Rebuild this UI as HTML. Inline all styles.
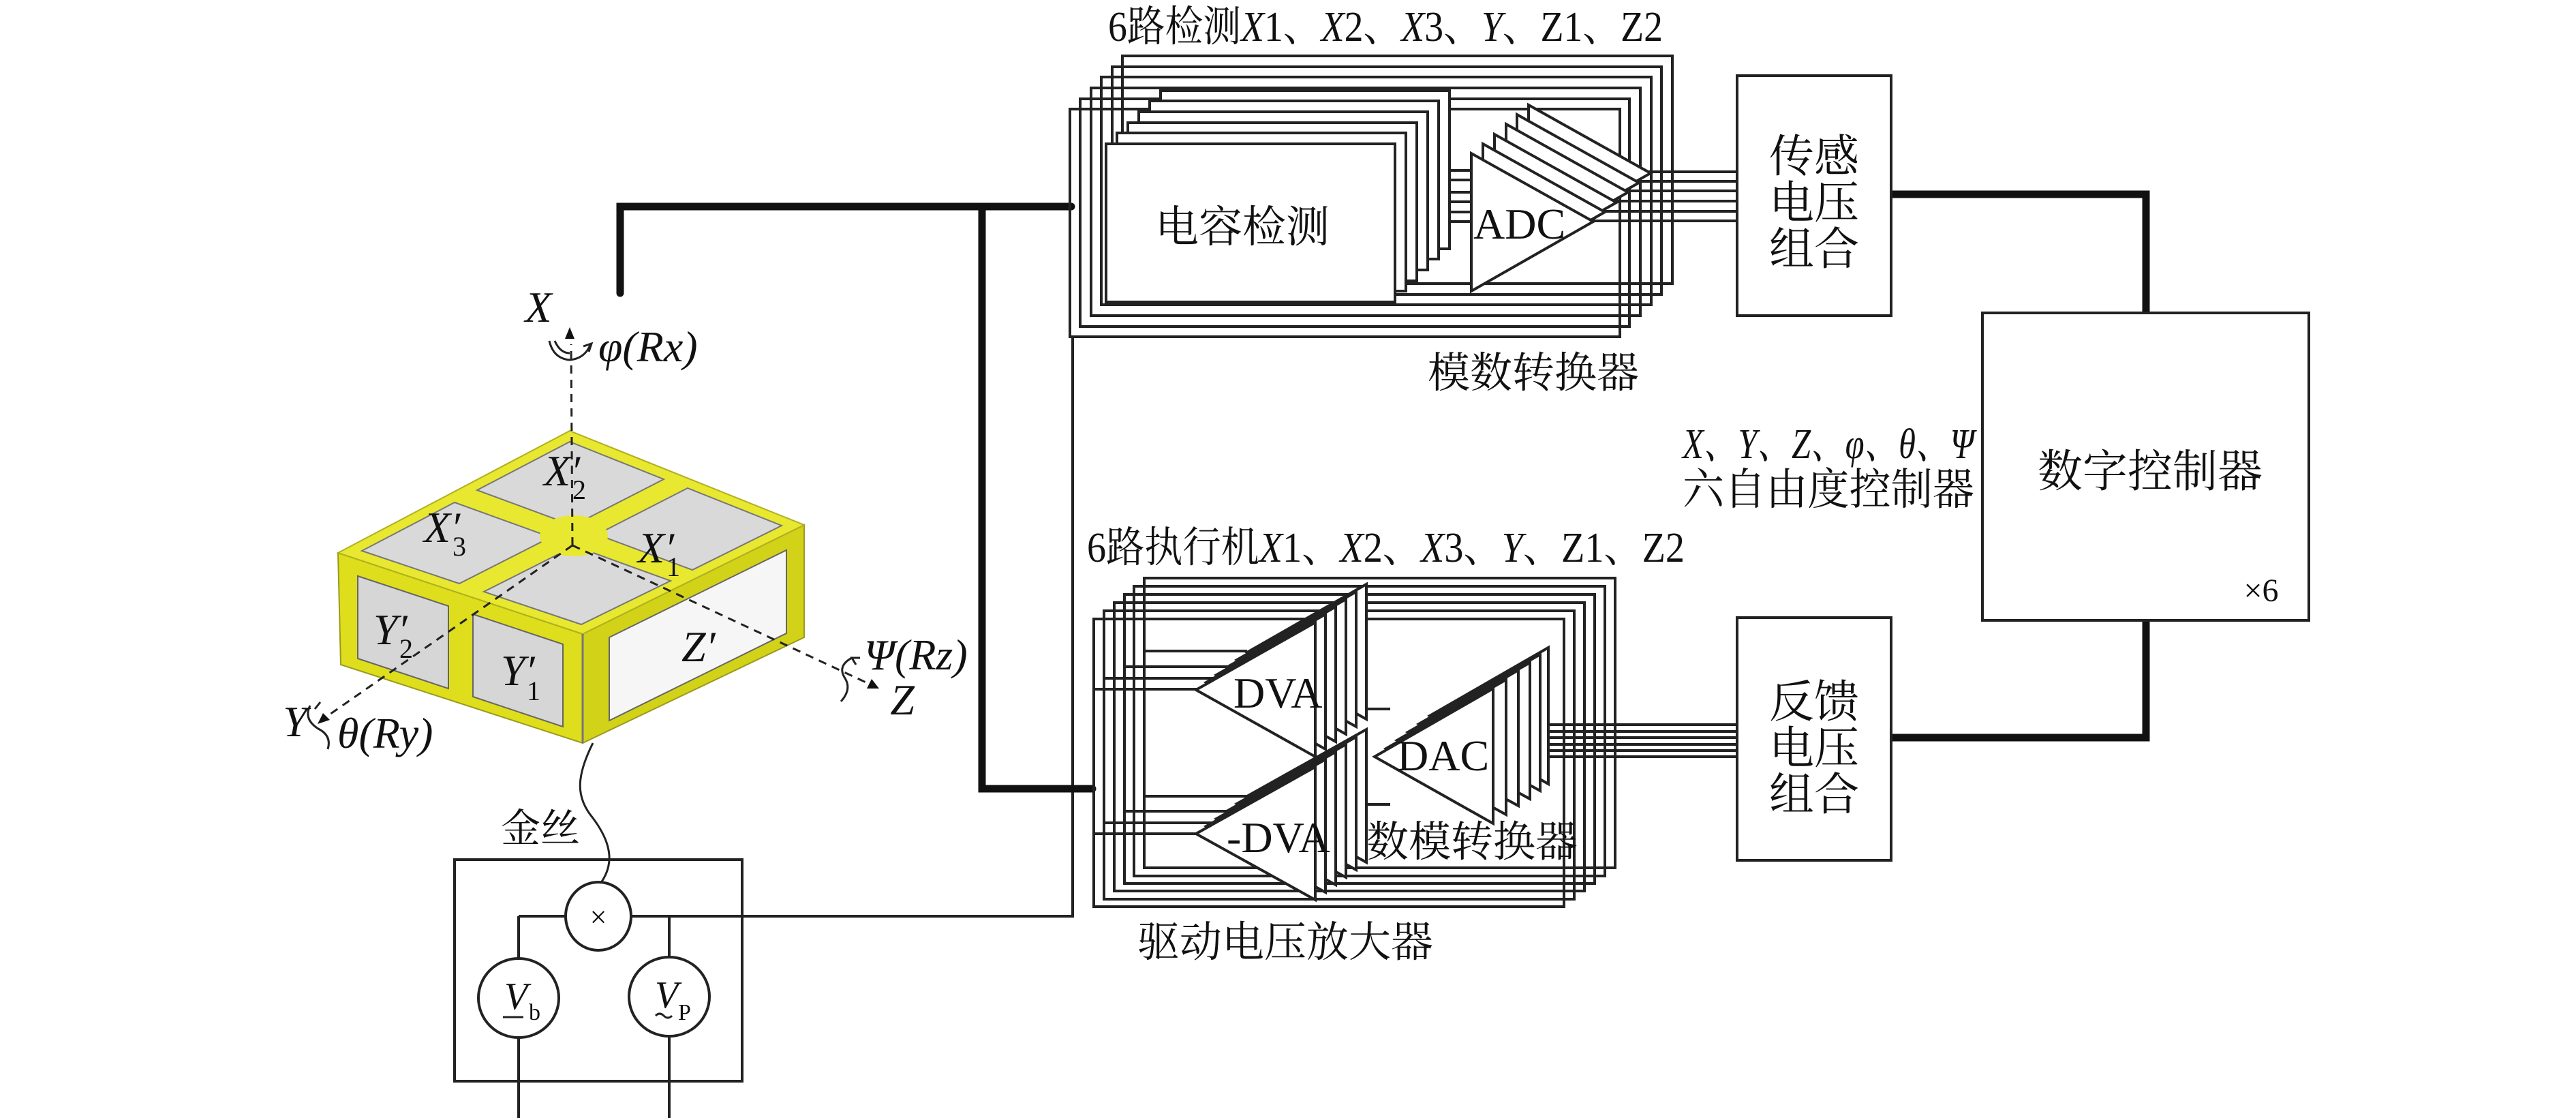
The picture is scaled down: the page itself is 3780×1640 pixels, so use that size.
<!DOCTYPE html>
<html><head><meta charset="utf-8"><style>
html,body{margin:0;padding:0;background:#fff;}
svg{display:block;}
.cn{font-family:"Liberation Serif","Noto Serif CJK SC",serif;fill:#111;}
.it{font-family:"Liberation Serif","Noto Serif CJK SC",serif;font-style:italic;fill:#111;}
</style></head><body>
<svg width="3780" height="1640" viewBox="0 0 3780 1640" xmlns="http://www.w3.org/2000/svg">
<rect width="3780" height="1640" fill="#fff"/>

<!-- ============ CUBE ============ -->
<polygon points="496,811 855,930 855,1090 500,975" fill="#dede1c" stroke="#9a9a20" stroke-width="2"/>
<polygon points="855,930 1180,770 1180,935 855,1090" fill="#d2d218" stroke="#9a9a20" stroke-width="2"/>
<polygon points="836,632 496,811 855,930 1180,770" fill="#e8e830" stroke="#b0b020" stroke-width="2"/>
<line x1="855" y1="930" x2="855" y2="1090" stroke="#777" stroke-width="3"/>
<g fill="#d9d9d9" stroke="#777" stroke-width="2">
<polygon points="836,648 700,719 841,771 974,703"/>
<polygon points="667,737 531,808 674,856 808,788"/>
<polygon points="1009,716 876,784 1016,836 1147,771"/>
<polygon points="843,801 710,868 853,916 984,852"/>
</g>
<ellipse cx="842" cy="786" rx="50" ry="30" fill="#e8e830"/>
<g fill="#d6d6d6" stroke="#666" stroke-width="2">
<polygon points="525,845 658,889 658,1010 525,966"/>
<polygon points="694,901 826,945 826,1066 694,1022"/>
</g>
<polygon points="894,935 1154,807 1154,929 894,1057" fill="#f6f6f6" stroke="#666" stroke-width="2"/>

<!-- axes -->
<g stroke="#222" stroke-width="3" stroke-dasharray="12,9" fill="none">
<line x1="840" y1="800" x2="838" y2="505"/>
<line x1="840" y1="800" x2="478" y2="1052"/>
<line x1="840" y1="800" x2="1275" y2="1003"/>
</g>
<polygon points="836,480 829,497 843,497" fill="#111"/>
<polygon points="466,1062 474,1046 484,1056" fill="#111"/>
<polygon points="1290,1010 1272,1010 1279,996" fill="#111"/>
<g stroke="#222" stroke-width="3" fill="none">
<path d="M806,500 q6,26 30,28 q22,-2 30,-22"/>
<path d="M814,500 q8,18 22,18"/>
<path d="M856,508 l12,-4 l-4,12"/>
<path d="M455,1035 q-10,20 12,34 q20,10 14,30"/>
<path d="M470,1030 l-8,10"/>
<path d="M1250,965 q-22,12 -10,30 q10,16 -6,34"/>
<path d="M1262,965 l-12,0 l6,10"/>
</g>
<text x="790" y="472" class="it" font-size="64" text-anchor="middle">X</text>
<text x="878" y="530" class="it" font-size="64">φ(Rx)</text>
<text x="433" y="1080" class="it" font-size="64" text-anchor="middle">Y</text>
<text x="495" y="1097" class="it" font-size="64">θ(Ry)</text>
<text x="1268" y="982" class="it" font-size="64">Ψ(Rz)</text>
<text x="1324" y="1048" class="it" font-size="64" text-anchor="middle">Z</text>
<text x="798" y="712" class="it" font-size="64">X′</text><text x="840" y="732" class="cn" font-size="40">2</text>
<text x="622" y="795" class="it" font-size="64">X′</text><text x="664" y="815" class="cn" font-size="40">3</text>
<text x="936" y="825" class="it" font-size="64">X′</text><text x="978" y="845" class="cn" font-size="40">1</text>
<text x="548" y="945" class="it" font-size="64">Y′</text><text x="586" y="965" class="cn" font-size="40">2</text>
<text x="735" y="1005" class="it" font-size="64">Y′</text><text x="773" y="1027" class="cn" font-size="40">1</text>
<text x="1000" y="970" class="it" font-size="64">Z′</text>

<!-- gold wire -->
<path d="M870,1090 C845,1140 845,1170 870,1200 C900,1240 900,1270 881,1296" stroke="#222" stroke-width="3" fill="none"/>
<text x="735" y="1235" class="cn" font-size="58">金丝</text>

<g stroke="#222" stroke-width="4" fill="none">
<rect x="667" y="1261" width="422" height="325"/>
<line x1="761" y1="1344" x2="830" y2="1344"/>
<line x1="761" y1="1344" x2="761" y2="1406"/>
<line x1="926" y1="1344" x2="1574" y2="1344"/>
<line x1="982" y1="1344" x2="982" y2="1404"/>
<line x1="761" y1="1522" x2="761" y2="1640"/>
<line x1="982" y1="1520" x2="982" y2="1640"/>
<line x1="1574" y1="494" x2="1574" y2="1346"/>
</g>
<g stroke="#222" stroke-width="4" fill="#fff">
<ellipse cx="878" cy="1344" rx="48" ry="50"/>
<ellipse cx="761" cy="1464" rx="59" ry="58"/>
<ellipse cx="982" cy="1462" rx="59" ry="58"/>
</g>
<text x="878" y="1360" class="cn" font-size="44" text-anchor="middle">×</text>
<text x="740" y="1480" class="it" font-size="56">V</text>
<text x="776" y="1496" class="cn" font-size="34">b</text>
<line x1="738" y1="1492" x2="768" y2="1492" stroke="#222" stroke-width="3"/>
<text x="961" y="1478" class="it" font-size="56">V</text>
<text x="995" y="1496" class="cn" font-size="34">P</text>
<path d="M962,1490 q6,-6 12,0 q6,6 12,0" stroke="#222" stroke-width="3" fill="none"/>

<g stroke="#111" stroke-width="11" fill="none" stroke-linecap="round">
<polyline points="910,430 910,303 1572,303"/>
<polyline points="1441,303 1441,1157 1603,1157"/>
<polyline points="2775,285 3149,285 3149,459"/>
<polyline points="3149,910 3149,1082 2775,1082"/>
</g>

<!-- ============ TOP BLOCK ============ -->
<text x="1626" y="60" class="cn" font-size="62" textLength="814" lengthAdjust="spacingAndGlyphs">6路检测<tspan class="it">X</tspan>1、<tspan class="it">X</tspan>2、<tspan class="it">X</tspan>3、<tspan class="it">Y</tspan>、Z1、Z2</text>
<g stroke="#222" stroke-width="4" fill="none">
<rect x="1647" y="82" width="807" height="334"/>
<rect x="1632" y="98" width="806" height="334"/>
<rect x="1616" y="113" width="807" height="334"/>
<rect x="1601" y="129" width="806" height="334"/>
<rect x="1585" y="145" width="806" height="334"/>
<rect x="1570" y="160" width="807" height="334"/>
</g>
<g stroke="#222" stroke-width="4">
<line x1="2330" y1="252" x2="2549" y2="252"/>
<line x1="2330" y1="266" x2="2549" y2="266"/>
<line x1="2330" y1="280" x2="2549" y2="280"/>
<line x1="2330" y1="295" x2="2549" y2="295"/>
<line x1="2330" y1="310" x2="2549" y2="310"/>
<line x1="2330" y1="324" x2="2549" y2="324"/>
<line x1="2040" y1="250" x2="2170" y2="250"/>
<line x1="2040" y1="264" x2="2170" y2="264"/>
<line x1="2040" y1="282" x2="2170" y2="282"/>
<line x1="2040" y1="296" x2="2170" y2="296"/>
<line x1="2040" y1="311" x2="2170" y2="311"/>
<line x1="2040" y1="325" x2="2170" y2="325"/>
</g>
<g stroke="#222" stroke-width="4" fill="#fff">
<rect x="1703" y="133" width="424" height="232"/>
<rect x="1687" y="148" width="424" height="232"/>
<rect x="1671" y="164" width="424" height="232"/>
<rect x="1655" y="180" width="424" height="232"/>
<rect x="1639" y="195" width="424" height="232"/>
<rect x="1623" y="211" width="424" height="232"/>
</g>
<g stroke="#222" stroke-width="4" fill="#fff">
<polygon points="2243,154 2243,356 2422,254"/>
<polygon points="2226,168 2226,370 2405,268"/>
<polygon points="2210,182 2210,384 2389,282"/>
<polygon points="2193,197 2193,399 2372,297"/>
<polygon points="2176,211 2176,413 2355,311"/>
<polygon points="2159,225 2159,427 2338,325"/>
</g>
<text x="1823" y="355" class="cn" font-size="64" text-anchor="middle">电容检测</text>
<text x="2162" y="350" class="cn" font-size="64">ADC</text>
<text x="2250" y="568" class="cn" font-size="62" text-anchor="middle">模数转换器</text>

<!-- ============ RIGHT BLOCKS ============ -->
<g stroke="#222" stroke-width="4" fill="#fff">
<rect x="2549" y="111" width="226" height="352"/>
<rect x="2549" y="906" width="226" height="356"/>
<rect x="2909" y="459" width="479" height="451"/>
</g>
<text x="2662" y="252" class="cn" font-size="66" text-anchor="middle">传感</text>
<text x="2662" y="320" class="cn" font-size="66" text-anchor="middle">电压</text>
<text x="2662" y="388" class="cn" font-size="66" text-anchor="middle">组合</text>
<text x="2662" y="1052" class="cn" font-size="66" text-anchor="middle">反馈</text>
<text x="2662" y="1120" class="cn" font-size="66" text-anchor="middle">电压</text>
<text x="2662" y="1188" class="cn" font-size="66" text-anchor="middle">组合</text>
<text x="3155" y="714" class="cn" font-size="66" text-anchor="middle">数字控制器</text>
<text x="3318" y="882" class="cn" font-size="48" text-anchor="middle">×6</text>
<text x="2469" y="672" class="it" font-size="62" textLength="428" lengthAdjust="spacingAndGlyphs">X、Y、Z、φ、θ、Ψ</text>
<text x="2469" y="740" class="cn" font-size="64" textLength="428" lengthAdjust="spacingAndGlyphs">六自由度控制器</text>

<!-- ============ BOTTOM BLOCK ============ -->
<text x="1595" y="824" class="cn" font-size="62" textLength="877" lengthAdjust="spacingAndGlyphs">6路执行机<tspan class="it">X</tspan>1、<tspan class="it">X</tspan>2、<tspan class="it">X</tspan>3、<tspan class="it">Y</tspan>、Z1、Z2</text>
<g stroke="#222" stroke-width="4" fill="none">
<rect x="1679" y="848" width="691" height="425"/>
<rect x="1664" y="860" width="691" height="425"/>
<rect x="1650" y="872" width="690" height="424"/>
<rect x="1635" y="884" width="690" height="423"/>
<rect x="1620" y="896" width="690" height="423"/>
<rect x="1605" y="908" width="690" height="422"/>
</g>
<g stroke="#222" stroke-width="4">
<line x1="1605" y1="1011" x2="1760" y2="1011"/>
<line x1="1605" y1="1223" x2="1760" y2="1223"/>
<line x1="1620" y1="995" x2="1790" y2="995"/>
<line x1="1620" y1="1207" x2="1790" y2="1207"/>
<line x1="1650" y1="978" x2="1810" y2="978"/>
<line x1="1650" y1="1190" x2="1810" y2="1190"/>
<line x1="1680" y1="955" x2="1830" y2="955"/>
<line x1="1680" y1="1168" x2="1830" y2="1168"/>
<line x1="2191" y1="1063" x2="2549" y2="1063"/>
<line x1="2191" y1="1073" x2="2549" y2="1073"/>
<line x1="2191" y1="1082" x2="2549" y2="1082"/>
<line x1="2191" y1="1092" x2="2549" y2="1092"/>
<line x1="2191" y1="1101" x2="2549" y2="1101"/>
<line x1="2191" y1="1110" x2="2549" y2="1110"/>
<line x1="1930" y1="1040" x2="2040" y2="1040"/>
<line x1="1930" y1="1180" x2="2040" y2="1180"/>
</g>
<g stroke="#222" stroke-width="4" fill="#fff">
<polygon points="1830,957 2005,857 2005,1055"/>
<polygon points="1815,968 1990,868 1990,1066"/>
<polygon points="1800,979 1975,879 1975,1077"/>
<polygon points="1785,990 1960,890 1960,1088"/>
<polygon points="1770,1001 1945,901 1945,1099"/>
<polygon points="1755,1012 1930,913 1930,1110"/>
</g>
<g stroke="#222" stroke-width="4" fill="#fff">
<polygon points="1830,1168 2005,1070 2005,1265"/>
<polygon points="1815,1179 1990,1081 1990,1276"/>
<polygon points="1800,1190 1975,1092 1975,1287"/>
<polygon points="1785,1201 1960,1103 1960,1298"/>
<polygon points="1770,1212 1945,1114 1945,1309"/>
<polygon points="1755,1223 1930,1125 1930,1320"/>
</g>
<g stroke="#222" stroke-width="4" fill="#fff">
<polygon points="2098,1050 2272,950 2272,1150"/>
<polygon points="2082,1062 2260,960 2260,1160"/>
<polygon points="2066,1074 2245,972 2245,1172"/>
<polygon points="2050,1086 2228,983 2228,1182"/>
<polygon points="2034,1098 2210,997 2210,1195"/>
<polygon points="2017,1110 2191,1010 2191,1208"/>
</g>
<text x="1810" y="1038" class="cn" font-size="64">DVA</text>
<text x="1800" y="1250" class="cn" font-size="64">-DVA</text>
<text x="2050" y="1130" class="cn" font-size="64">DAC</text>
<text x="2005" y="1256" class="cn" font-size="62">数模转换器</text>
<text x="1886" y="1403" class="cn" font-size="62" text-anchor="middle">驱动电压放大器</text>
</svg>
</body></html>
